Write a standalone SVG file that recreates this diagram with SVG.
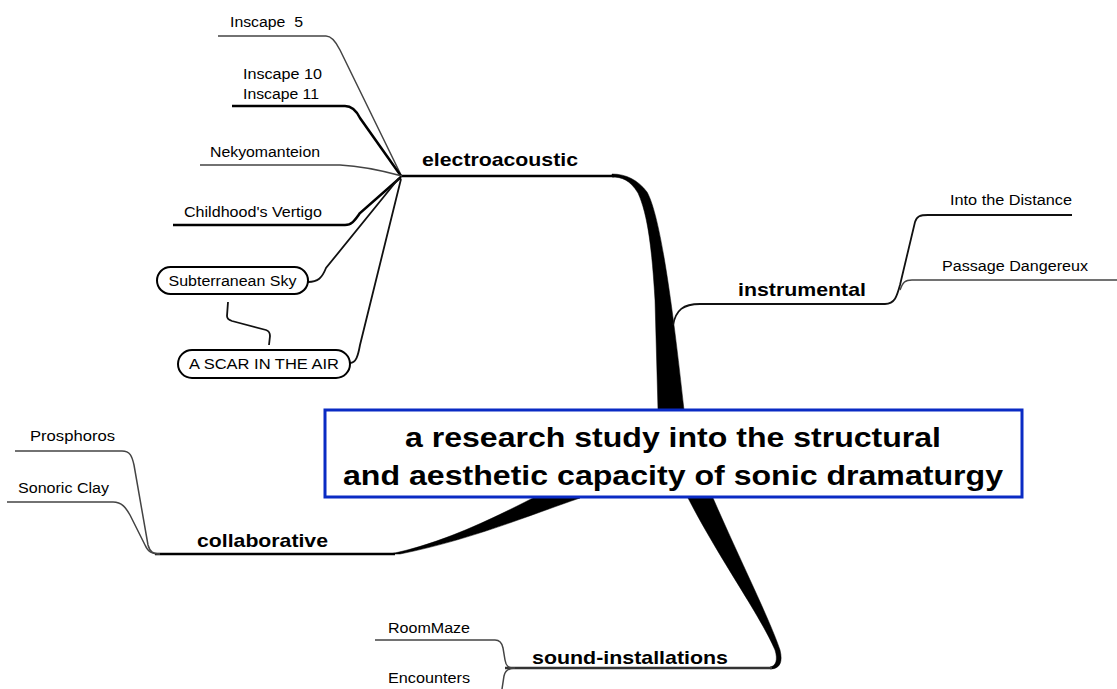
<svg xmlns="http://www.w3.org/2000/svg" width="1117" height="689" viewBox="0 0 1117 689">
<style>
text{font-family:"Liberation Sans",Arial,sans-serif;fill:#000}
.sm{font-size:14px}
.br{font-size:19px;font-weight:bold}
.ct{font-size:28px;font-weight:bold;text-anchor:middle}
.thin{fill:none;stroke:#444;stroke-width:1.5}
.thick{fill:none;stroke:#000;stroke-width:2.5}
.mid{fill:none;stroke:#111;stroke-width:1.8}
.trunk{fill:#000;stroke:#000;stroke-width:0.5}
.pill{fill:#fff;stroke:#000;stroke-width:2}
</style>
<rect width="1117" height="689" fill="#fff"/>
<g id="connectors">
  <path class="trunk" d="M 658 410 L 655 300 C 652 250 648 215 638 193 C 630 180 622 177 612 177 L 612 174 C 626 174 638 180 647 192 C 660 215 672 300 684 410 Z"/>
  <path class="thick" d="M 400 176 L 614 176"/>
  <path class="trunk" d="M 533 498 L 580 498 C 530 515 470 540 400 554 L 390 554 C 440 544 490 520 533 498 Z"/>
  <path class="thick" d="M 155 554 L 395 554"/>
  <path class="trunk" d="M 688 498 L 713 498 C 740 560 770 620 780 650 C 783 662 780 669 770 669 L 770 667 C 776 666 778 660 775 650 C 760 615 720 560 688 498 Z"/>
  <path class="thick" d="M 505 668 L 772 668" style="stroke:#333;stroke-width:2.5"/>
  <path class="mid" d="M 673 325 C 676 310 683 304 700 304 L 885 304 C 895 304 897 296 900 285 L 915 222 C 917 216 920 215 928 215 L 1072 215"/>
  <path class="thin" d="M 900 290 C 903 282 905 280 912 280 L 1117 280"/>
  <path class="thin" d="M 218 36 L 326 36 C 332 36 336 42 340 50 L 401 175"/>
  <path class="thick" d="M 232 106 L 345 106 C 352 106 356 110 360 118 L 401 176"/>
  <path class="thin" d="M 200 165 L 340 165 C 360 166 380 170 402 176"/>
  <path class="thick" d="M 173 225 L 345 225 C 352 225 355 220 360 213 L 401 177"/>
  <path class="mid" d="M 308 282 C 318 282 322 278 326 268 L 399 178"/>
  <path class="mid" d="M 350 363 C 356 363 358 356 360 345 L 401 179"/>
  <path class="mid" d="M 228 302 L 227 316 C 227 319 229 320 232 321 L 266 330 C 269 331 270 333 270 336 L 269 345"/>
  <path class="thin" d="M 15 451 L 122 451 C 130 451 132 456 134 465 L 148 545 C 150 552 153 554 160 554"/>
  <path class="thin" d="M 7 502 L 113 502 C 122 502 126 508 130 515 L 145 545 C 148 552 152 554 160 554"/>
  <path class="thin" d="M 375 640 L 495 640 C 500 640 502 643 503 648 L 505 660 C 506 666 508 668 515 668"/>
  <path class="thin" d="M 515 668 C 508 668 505 671 504 676 L 502 689"/>
</g>
<g id="center">
  <rect x="325" y="410" width="697" height="87" fill="#fff" stroke="#0a2bc4" stroke-width="3"/>
  <text class="ct" x="673" y="447" textLength="536" lengthAdjust="spacingAndGlyphs">a research study into the structural</text>
  <text class="ct" x="673" y="485" textLength="660" lengthAdjust="spacingAndGlyphs">and aesthetic capacity of sonic dramaturgy</text>
</g>
<g id="electroacoustic"><text class="br" x="422" y="166" textLength="156" lengthAdjust="spacingAndGlyphs">electroacoustic</text></g>
<g id="instrumental"><text class="br" x="738" y="296" textLength="128" lengthAdjust="spacingAndGlyphs">instrumental</text></g>
<g id="collaborative"><text class="br" x="197" y="547" textLength="131" lengthAdjust="spacingAndGlyphs">collaborative</text></g>
<g id="sound-installations"><text class="br" x="532" y="664" textLength="196" lengthAdjust="spacingAndGlyphs">sound-installations</text></g>
<g id="inscape5"><text class="sm" x="230" y="27" textLength="73" lengthAdjust="spacingAndGlyphs">Inscape &#160;5</text></g>
<g id="inscape10-11"><text class="sm" x="243" y="79" textLength="79" lengthAdjust="spacingAndGlyphs">Inscape 10</text><text class="sm" x="243" y="99" textLength="76" lengthAdjust="spacingAndGlyphs">Inscape 11</text></g>
<g id="nekyomanteion"><text class="sm" x="210" y="157" textLength="110" lengthAdjust="spacingAndGlyphs">Nekyomanteion</text></g>
<g id="childhoods-vertigo"><text class="sm" x="184" y="217" textLength="138" lengthAdjust="spacingAndGlyphs">Childhood's Vertigo</text></g>
<g id="subterranean-sky"><rect class="pill" x="157" y="267" width="151" height="27" rx="13.5"/><text class="sm" x="232.5" y="286" text-anchor="middle" textLength="128" lengthAdjust="spacingAndGlyphs">Subterranean Sky</text></g>
<g id="scar"><rect class="pill" x="178" y="350" width="172" height="28" rx="14"/><text class="sm" x="264" y="369" text-anchor="middle" textLength="150" lengthAdjust="spacingAndGlyphs">A SCAR IN THE AIR</text></g>
<g id="into-the-distance"><text class="sm" x="950" y="205" textLength="122" lengthAdjust="spacingAndGlyphs">Into the Distance</text></g>
<g id="passage-dangereux"><text class="sm" x="942" y="271" textLength="146" lengthAdjust="spacingAndGlyphs">Passage Dangereux</text></g>
<g id="prosphoros"><text class="sm" x="30" y="441" textLength="85" lengthAdjust="spacingAndGlyphs">Prosphoros</text></g>
<g id="sonoric-clay"><text class="sm" x="18" y="493" textLength="91" lengthAdjust="spacingAndGlyphs">Sonoric Clay</text></g>
<g id="roommaze"><text class="sm" x="388" y="633" textLength="82" lengthAdjust="spacingAndGlyphs">RoomMaze</text></g>
<g id="encounters"><text class="sm" x="388" y="683" textLength="82" lengthAdjust="spacingAndGlyphs">Encounters</text></g>
</svg>
